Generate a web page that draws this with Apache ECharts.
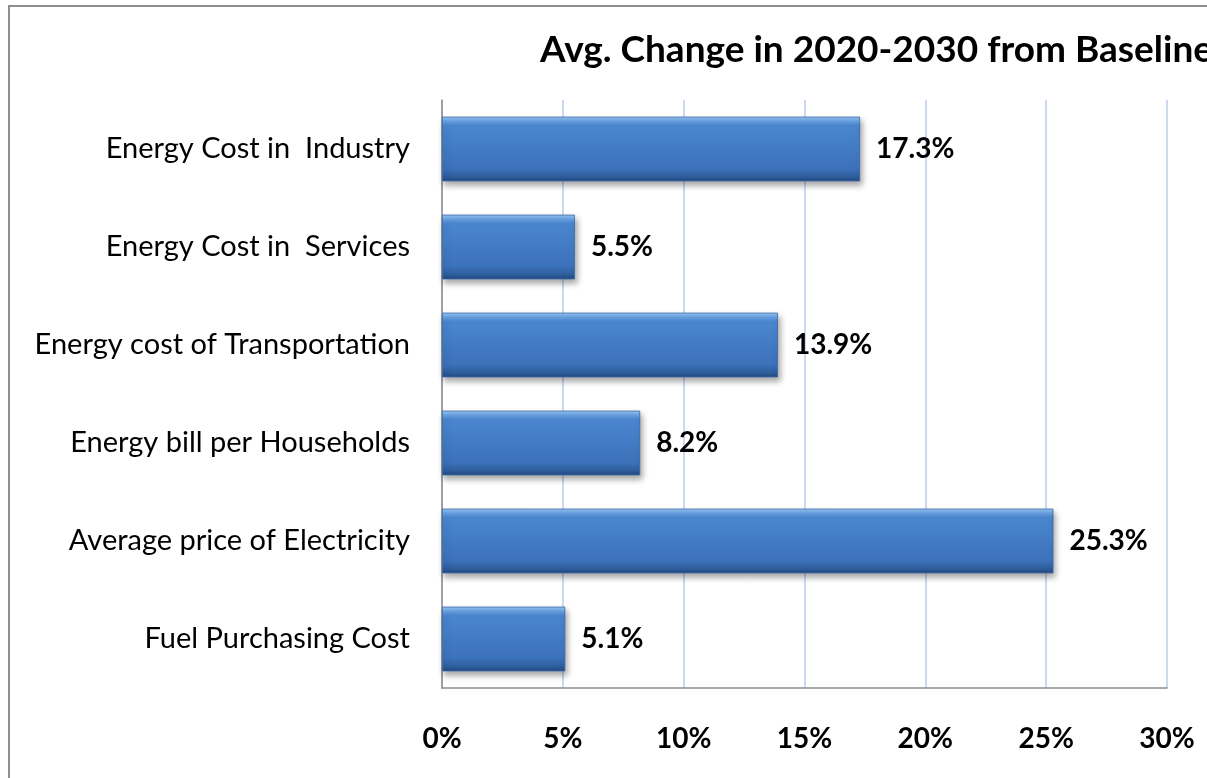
<!DOCTYPE html>
<html>
<head>
<meta charset="utf-8">
<script src="https://cdn.jsdelivr.net/npm/echarts@6/dist/echarts.min.js"></script>
<style>
  html, body { margin: 0; padding: 0; background: #fff; }
  #chart { width: 1207px; height: 778px; }
</style>
</head>
<body>
<div id="chart"></div>
<script>
// Categories listed top to bottom
const categories = [
  'Energy Cost in  Industry',
  'Energy Cost in  Services',
  'Energy cost of Transportation',
  'Energy bill per Households',
  'Average price of Electricity',
  'Fuel Purchasing Cost'
];
// Average change in 2020-2030 from baseline, percent
const changeValues = [17.3, 5.5, 13.9, 8.2, 25.3, 5.1];
const titleText = 'Avg. Change in 2020-2030 from Baseline';

const FONT = 'Lato, "Open Sans", sans-serif';

// Bevelled blue fill: light top edge, darker body, dark bottom edge
const barFill = new echarts.graphic.LinearGradient(0, 0, 0, 1, [
  { offset: 0.00, color: '#9cc8f4' },
  { offset: 0.07, color: '#6aa3e6' },
  { offset: 0.14, color: '#4a86cf' },
  { offset: 0.80, color: '#3c72ba' },
  { offset: 0.92, color: '#2f5f9f' },
  { offset: 1.00, color: '#24497e' }
]);

const chart = echarts.init(document.getElementById('chart'), null, { renderer: 'canvas' });
chart.setOption({
  backgroundColor: '#ffffff',
  animation: false,
  title: {
    text: titleText,
    left: 535,
    top: 27,
    textStyle: { fontFamily: FONT, fontWeight: 'bold', fontSize: 37, color: '#000' }
  },
  graphic: [{
    type: 'rect',
    shape: { x: 9, y: 6, width: 1260, height: 820 },
    style: { fill: 'none', stroke: '#8e8e8e', lineWidth: 2 },
    silent: true,
    z: 100
  }],
  grid: { left: 442, right: 40, top: 100, bottom: 90, containLabel: false },
  xAxis: {
    type: 'value',
    min: 0,
    max: 30,
    interval: 5,
    axisLine: { show: true, lineStyle: { color: '#8c8c8c', width: 1.5 } },
    axisTick: { show: false },
    splitLine: { show: true, lineStyle: { color: '#bccdee', width: 1.5 } },
    axisLabel: {
      formatter: v => v + '%',
      margin: 37,
      fontFamily: FONT,
      fontWeight: 'bold',
      fontSize: 28,
      color: '#000'
    }
  },
  yAxis: {
    type: 'category',
    data: categories,
    inverse: true,
    axisLine: { show: true, lineStyle: { color: '#8c8c8c', width: 1.5 } },
    axisTick: { show: false },
    axisLabel: {
      margin: 32,
      fontFamily: FONT,
      fontSize: 29,
      color: '#000'
    }
  },
  series: [{
    type: 'bar',
    data: changeValues,
    barCategoryGap: '34%',
    itemStyle: {
      color: barFill,
      borderColor: '#3a68a6',
      borderWidth: 0.8,
      shadowColor: 'rgba(0,0,0,0.35)',
      shadowBlur: 6,
      shadowOffsetX: 2,
      shadowOffsetY: 4
    },
    label: {
      show: true,
      position: 'right',
      distance: 16,
      formatter: p => p.value.toFixed(1) + '%',
      fontFamily: FONT,
      fontWeight: 'bold',
      fontSize: 28,
      color: '#000'
    }
  }]
});
</script>
</body>
</html>
